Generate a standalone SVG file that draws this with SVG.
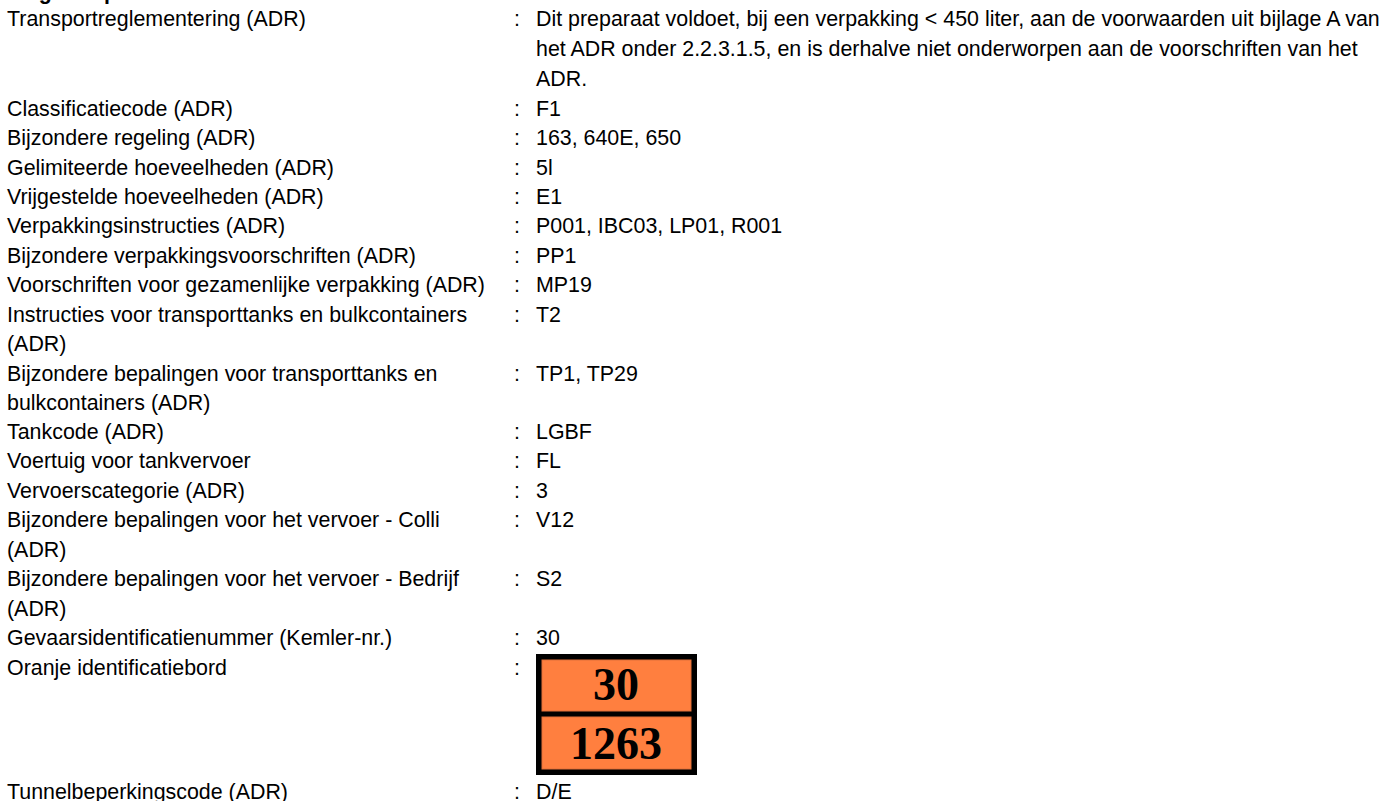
<svg xmlns="http://www.w3.org/2000/svg" width="1385" height="801" viewBox="0 0 1385 801">
<style>
text{font-family:"Liberation Sans",Arial,sans-serif;font-size:21.4px;fill:#000}
.b{font-weight:bold}
.p{font-family:"Liberation Serif","Times New Roman",serif;font-weight:bold;font-size:46px;text-anchor:middle}
.o{fill:#ff7f3f;stroke:#e0703a;stroke-width:1}
</style>
<rect width="1385" height="801" fill="#fff"/>
<text class="b" x="7" y="-1">Wegtransport</text>
<g id="labels">
<text x="7" y="26">Transportreglementering (ADR)</text>
<text x="7" y="116">Classificatiecode (ADR)</text>
<text x="7" y="145">Bijzondere regeling (ADR)</text>
<text x="7" y="175">Gelimiteerde hoeveelheden (ADR)</text>
<text x="7" y="204">Vrijgestelde hoeveelheden (ADR)</text>
<text x="7" y="233">Verpakkingsinstructies (ADR)</text>
<text x="7" y="263">Bijzondere verpakkingsvoorschriften (ADR)</text>
<text x="7" y="292">Voorschriften voor gezamenlijke verpakking (ADR)</text>
<text x="7" y="322">Instructies voor transporttanks en bulkcontainers</text>
<text x="7" y="351">(ADR)</text>
<text x="7" y="381">Bijzondere bepalingen voor transporttanks en</text>
<text x="7" y="410">bulkcontainers (ADR)</text>
<text x="7" y="439">Tankcode (ADR)</text>
<text x="7" y="468">Voertuig voor tankvervoer</text>
<text x="7" y="498">Vervoerscategorie (ADR)</text>
<text x="7" y="527">Bijzondere bepalingen voor het vervoer - Colli</text>
<text x="7" y="557">(ADR)</text>
<text x="7" y="586">Bijzondere bepalingen voor het vervoer - Bedrijf</text>
<text x="7" y="616">(ADR)</text>
<text x="7" y="645">Gevaarsidentificatienummer (Kemler-nr.)</text>
<text x="7" y="675">Oranje identificatiebord</text>
<text x="7" y="799">Tunnelbeperkingscode (ADR)</text>
</g>
<g id="colons">
<text x="514" y="26">:</text><text x="514" y="116">:</text><text x="514" y="145">:</text><text x="514" y="175">:</text><text x="514" y="204">:</text><text x="514" y="233">:</text><text x="514" y="263">:</text><text x="514" y="292">:</text><text x="514" y="322">:</text><text x="514" y="381">:</text><text x="514" y="439">:</text><text x="514" y="468">:</text><text x="514" y="498">:</text><text x="514" y="527">:</text><text x="514" y="586">:</text><text x="514" y="645">:</text><text x="514" y="675">:</text><text x="514" y="799">:</text>
</g>
<g id="values">
<text x="536" y="26">Dit preparaat voldoet, bij een verpakking &lt; 450 liter, aan de voorwaarden uit bijlage A van</text>
<text x="536" y="56">het ADR onder 2.2.3.1.5, en is derhalve niet onderworpen aan de voorschriften van het</text>
<text x="536" y="86">ADR.</text>
<text x="536" y="116">F1</text>
<text x="536" y="145">163, 640E, 650</text>
<text x="536" y="175">5l</text>
<text x="536" y="204">E1</text>
<text x="536" y="233">P001, IBC03, LP01, R001</text>
<text x="536" y="263">PP1</text>
<text x="536" y="292">MP19</text>
<text x="536" y="322">T2</text>
<text x="536" y="381">TP1, TP29</text>
<text x="536" y="439">LGBF</text>
<text x="536" y="468">FL</text>
<text x="536" y="498">3</text>
<text x="536" y="527">V12</text>
<text x="536" y="586">S2</text>
<text x="536" y="645">30</text>
<text x="536" y="799">D/E</text>
</g>
<g id="plate">
<rect x="536" y="654" width="161" height="121" fill="#000"/>
<rect class="o" x="542" y="660" width="149" height="51"/>
<rect class="o" x="542" y="717" width="149" height="52"/>
<text class="p" x="616" y="700">30</text>
<text class="p" x="616" y="759">1263</text>
</g>
</svg>
